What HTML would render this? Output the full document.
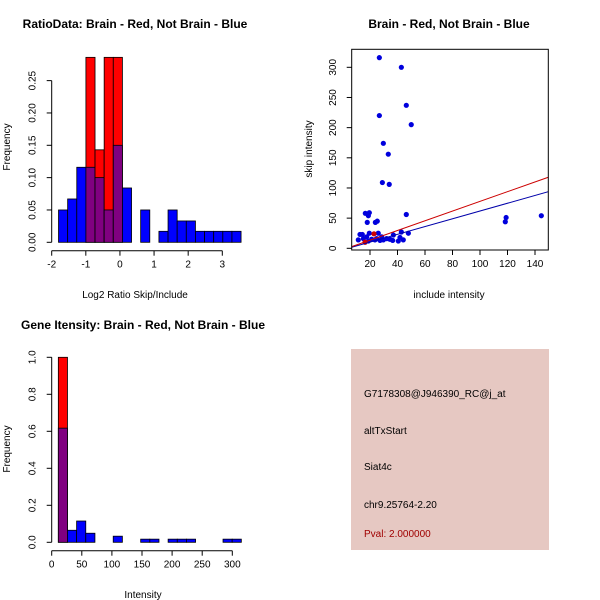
<!DOCTYPE html>
<html><head><meta charset="utf-8"><style>
body{margin:0;background:#fff}
svg{display:block;font-family:"Liberation Sans",sans-serif}
.t{font-weight:bold;font-size:12px}
.l{font-size:10px}
</style></head><body>
<svg id="s" width="600" height="600">
<text class="t" x="135" y="28" text-anchor="middle">RatioData: Brain - Red, Not Brain - Blue</text>
<text class="t" x="449" y="28" text-anchor="middle">Brain - Red, Not Brain - Blue</text>
<text class="t" x="143" y="329" text-anchor="middle">Gene Itensity: Brain - Red, Not Brain - Blue</text>
<text class="l" x="135" y="298" text-anchor="middle">Log2 Ratio Skip/Include</text>
<text class="l" x="449" y="298" text-anchor="middle">include intensity</text>
<text class="l" x="143" y="598" text-anchor="middle">Intensity</text>
<text class="l" transform="translate(10,147) rotate(-90)" text-anchor="middle">Frequency</text>
<text class="l" transform="translate(312,149) rotate(-90)" text-anchor="middle">skip intensity</text>
<text class="l" transform="translate(10,449) rotate(-90)" text-anchor="middle">Frequency</text>
<g>
<rect x="351" y="349" width="198" height="201" fill="#e6c8c2"/>
<text class="l" x="364" y="397">G7178308@J946390_RC@j_at</text>
<text class="l" x="364" y="434">altTxStart</text>
<text class="l" x="364" y="470">Siat4c</text>
<text class="l" x="364" y="508">chr9.25764-2.20</text>
<text class="l" x="364" y="537" fill="#a00000">Pval: 2.000000</text>
</g>
</svg>
<script>
// Ratio histogram data
const ratioBinStart = -1.8, ratioBinWidth = 0.2675;
const ratioBlue = [0.05,0.067,0.116,0.116,0.1,0.05,0.15,0.084,0,0.05,0,0.017,0.05,0.033,0.033,0.017,0.017,0.017,0.017,0.017];
const ratioRed  = [0,0,0,0.286,0.143,0.286,0.286,0,0,0,0,0,0,0,0,0,0,0,0,0];
const ratioXTicks = [-2,-1,0,1,2,3];
const ratioYTicks = ["0.00","0.05","0.10","0.15","0.20","0.25"];
// Intensity histogram data
const intBinStart = 11, intBinWidth = 15.2;
const intBlue = [0.617,0.065,0.115,0.049,0,0,0.033,0,0,0.017,0.017,0,0.017,0.017,0.017,0,0,0,0.017,0.017];
const intRed  = [1.0,0,0,0,0,0,0,0,0,0,0,0,0,0,0,0,0,0,0,0];
const intXTicks = [0,50,100,150,200,250,300];
const intYTicks = ["0.0","0.2","0.4","0.6","0.8","1.0"];
// Scatter data
const blueX = [26.8,42.8,46.4,26.8,50,29.7,33.3,29,34,46.4,16.6,19.5,18.8,18,23.9,25.3,118.4,119,144.6,47.9,42.8,12.7,14.4,19.5,26,37,11.5,15.2,17.6,21.2,23.6,27.3,29.7,32.1,34.5,36.5,40.6,41.8,44.2,24.8,28.5,18.8];
const blueY = [316,300,237,220,205,174,156,109,106,56,58,59,54,43,43,45,44,51,54,25,27,23,23,25,25,22,14,16,19,15,14,13,14,16,15,13,12,18,14,16,19,12];
const redX = [16.4,22.9];
const redY = [10,24];
const blueFit = [-2.6,0.644];
const redFit = [-2.6,0.804];
const scatXTicks = [20,40,60,80,100,120,140];
const scatYTicks = [0,50,100,150,200,250,300];

const NS="http://www.w3.org/2000/svg", svg=document.getElementById('s');
function mk(tag,attrs,parent){const e=document.createElementNS(NS,tag);for(const k in attrs)e.setAttribute(k,attrs[k]);(parent||svg).appendChild(e);return e;}

function hist(name,bs,bw,blue,red,xs,ys,xT,yT,axY){
  const g=mk('g',{});
  
  
  for(let i=0;i<blue.length;i++){
    const x0=xs(bs+i*bw), x1=xs(bs+(i+1)*bw), b=blue[i], r=red[i];
    const hi=Math.max(b,r), lo=Math.min(b,r);
    if(hi>0){
      const e=mk('rect',{x:x0,y:ys(hi),width:x1-x0,height:ys(0)-ys(hi),fill:r>b?'#ff0000':'#0000ff',stroke:'#000','stroke-width':0.8},g);
      
      
    }
    if(lo>0){
      const e=mk('rect',{x:x0,y:ys(lo),width:x1-x0,height:ys(0)-ys(lo),fill:'#800080',stroke:'#000','stroke-width':0.8},g);
      
      
    }
  }
  const ax=mk('g',{stroke:'#000','stroke-width':1},g);
  
  
  mk('line',{x1:xs(xT[0]),x2:xs(xT[xT.length-1]),y1:axY,y2:axY},ax);
  xT.forEach(v=>{mk('line',{x1:xs(v),x2:xs(v),y1:axY,y2:axY+5},ax);
    const t=mk('text',{x:xs(v),y:axY+17,'text-anchor':'middle','font-size':10,stroke:'none'},ax);t.textContent=v;});
  const ay=mk('g',{stroke:'#000','stroke-width':1},g);
  
  
  const xa=51.7;
  mk('line',{x1:xa,x2:xa,y1:ys(+yT[0]),y2:ys(+yT[yT.length-1])},ay);
  yT.forEach(v=>{const y=ys(+v);mk('line',{x1:xa-5,x2:xa,y1:y,y2:y},ay);
    const t=mk('text',{transform:`translate(${xa-16},${y}) rotate(-90)`,'text-anchor':'middle','font-size':10,stroke:'none'},ay);t.textContent=v;});
}
hist('ratio-histogram',ratioBinStart,ratioBinWidth,ratioBlue,ratioRed,
  v=>51.7+(v+2)*34.12, v=>242.3-v*646.7, ratioXTicks, ratioYTicks, 250.7);
hist('intensity-histogram',intBinStart,intBinWidth,intBlue,intRed,
  v=>51.7+v*0.602, v=>542.3-v*185, intXTicks, intYTicks, 550.7);

// Scatter
const sx=v=>342.5+v*1.375, sy=v=>248.3-v*0.6033;
const sg=mk('g',{});


const cp=mk('clipPath',{id:'cp'},sg);mk('rect',{x:351.7,y:49.3,width:196.6,height:200.7},cp);
const pts=mk('g',{'clip-path':'url(#cp)'},sg);
blueX.forEach((x,i)=>{const c=mk('circle',{cx:sx(x),cy:sy(blueY[i]),r:2.6,fill:'#0000dd'},pts);
  
  });
redX.forEach((x,i)=>{const c=mk('circle',{cx:sx(x),cy:sy(redY[i]),r:2.6,fill:'#cc0000'},pts);
  
  });
[[blueFit,'#0000aa','blue-fit-line'],[redFit,'#cc0000','red-fit-line']].forEach(([f,c,n])=>{
  const x0=6.7,x1=150;
  const l=mk('line',{x1:sx(x0),y1:sy(f[0]+f[1]*x0),x2:sx(x1),y2:sy(f[0]+f[1]*x1),stroke:c,'stroke-width':1},pts);
  
  });
const box=mk('rect',{x:351.7,y:49.3,width:196.6,height:200.7,fill:'none',stroke:'#000'},sg);


const sxa=mk('g',{stroke:'#000'},sg);


scatXTicks.forEach(v=>{mk('line',{x1:sx(v),x2:sx(v),y1:250,y2:255},sxa);
  const t=mk('text',{x:sx(v),y:267,'text-anchor':'middle','font-size':10,stroke:'none'},sxa);t.textContent=v;});
const sya=mk('g',{stroke:'#000'},sg);


scatYTicks.forEach(v=>{mk('line',{x1:346.7,x2:351.7,y1:sy(v),y2:sy(v)},sya);
  const t=mk('text',{transform:`translate(336,${sy(v)}) rotate(-90)`,'text-anchor':'middle','font-size':10,stroke:'none'},sya);t.textContent=v;});
</script>
</body></html>
